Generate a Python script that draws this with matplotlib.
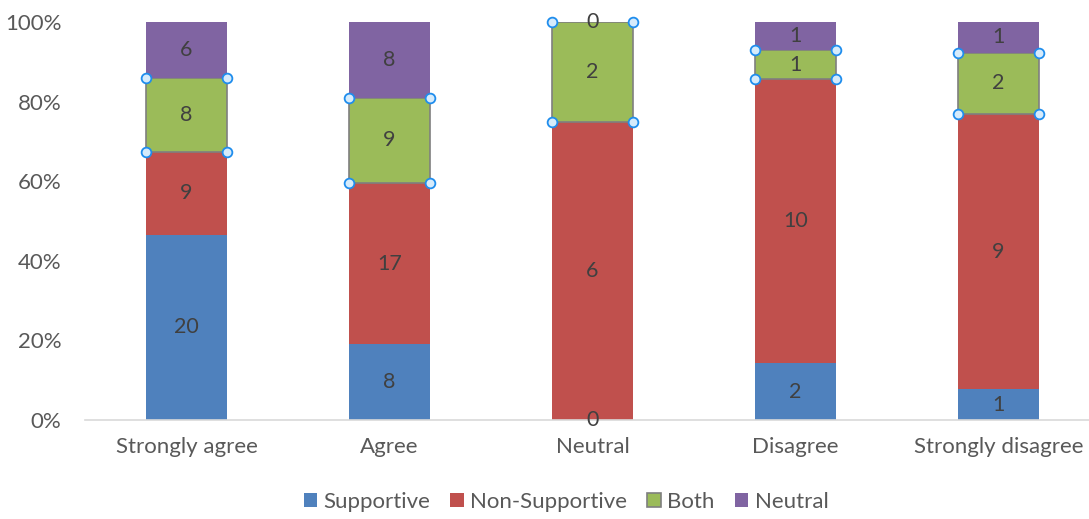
import numpy as np
import matplotlib.pyplot as plt
from matplotlib.ticker import PercentFormatter

categories = ['Strongly agree', 'Agree', 'Neutral', 'Disagree', 'Strongly disagree']
supportive = [20, 8, 0, 2, 1]
non_supportive = [9, 17, 6, 10, 9]
both = [8, 9, 2, 1, 2]
neutral = [6, 8, 0, 1, 1]

series = [
    ('Supportive', supportive, '#4F81BD'),
    ('Non-Supportive', non_supportive, '#C0504D'),
    ('Both', both, '#9BBB59'),
    ('Neutral', neutral, '#8064A2'),
]

plt.rcParams['font.family'] = ['Lato', 'DejaVu Sans']

counts = np.array([s[1] for s in series], dtype=float)
totals = counts.sum(axis=0)
shares = counts / totals * 100

fig = plt.figure(figsize=(10.89, 5.19), dpi=100)
ax = fig.add_axes([85 / 1089, 99 / 519, 1015 / 1089, 398 / 519])

x = np.arange(len(categories))
width = 0.4
bottom = np.zeros(len(categories))
for i, (name, vals, color) in enumerate(series):
    is_both = name == 'Both'
    ax.bar(x, shares[i], width, bottom=bottom, color=color, label=name,
           edgecolor='#7f7f7f' if is_both else 'none', linewidth=1.2 if is_both else 0,
           zorder=2)
    for xi, v, b, h in zip(x, vals, bottom, shares[i]):
        ax.text(xi, b + h / 2, str(v), ha='center', va='center',
                fontsize=15.5, color='#404040', zorder=4)
    if is_both:
        # selection handles on the corners of the "Both" segments
        for yy in (bottom, bottom + shares[i]):
            ax.plot(np.concatenate([x - width / 2, x + width / 2]),
                    np.concatenate([yy, yy]), 'o', ms=7, mfc='#d6ebfb',
                    mec='#1f8ded', mew=1.3, zorder=5, clip_on=False)
    bottom += shares[i]

ax.set_xlim(-0.5, len(categories) - 0.5)
ax.set_ylim(0, 100)
ax.set_yticks(range(0, 101, 20))
ax.yaxis.set_major_formatter(PercentFormatter(decimals=0))
ax.set_xticks(x)
ax.set_xticklabels(categories)
ax.tick_params(axis='both', length=0, labelsize=16, colors='#595959')
ax.tick_params(axis='x', pad=12)
ax.tick_params(axis='y', pad=17)
for side in ['top', 'right', 'left']:
    ax.spines[side].set_visible(False)
ax.spines['bottom'].set_color('#d9d9d9')
ax.spines['bottom'].set_linewidth(1.2)

fig.legend(loc='center', bbox_to_anchor=(566 / 1089, 1 - 502 / 519), ncol=4,
           frameon=False, fontsize=16, handlelength=0.6, handleheight=0.6,
           handletextpad=0.3, columnspacing=0.9, labelcolor='#595959')

fig.savefig('out.png', dpi=100)
